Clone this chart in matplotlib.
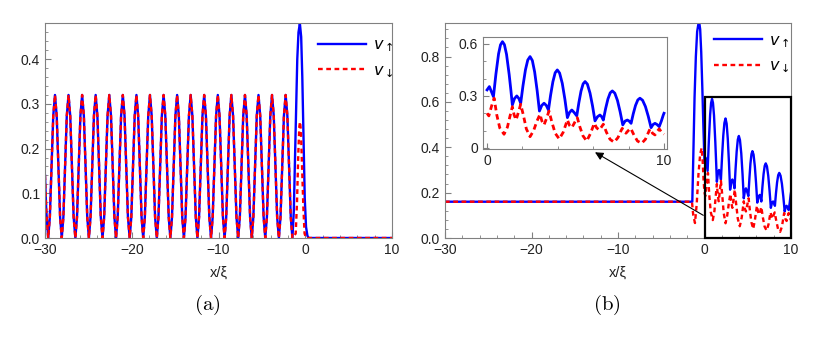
import numpy as np
import matplotlib.pyplot as plt
from matplotlib.ticker import AutoMinorLocator
from matplotlib.patches import Rectangle

plt.rcParams['font.family'] = ['Liberation Sans', 'DejaVu Sans']
plt.rcParams['mathtext.fontset'] = 'dejavusans'

BLUE = '#0000ff'
RED = '#ff0000'
FRAME = '#808080'

#------------------------------------------------------------------------
# (a) ripple region
#------------------------------------------------------------------------
# positions of the ripple maxima (x/xi); every ripple tops out near 0.32
peaks_a = [-28.85, -27.29, -25.72, -24.16, -22.59, -21.03, -19.46, -17.90, -16.33,
           -14.77, -13.21, -11.65, -10.08, -8.52, -6.95, -5.39, -3.83, -2.26]
# one ripple, offsets from its maximum and values
ripple_dx = [-0.78, -0.59, -0.39, -0.20, 0.0, 0.20, 0.39, 0.59]
ripple_v = [0.0, 0.047, 0.16, 0.273, 0.32, 0.273, 0.16, 0.047]

# left edge before the first ripple minimum
edge_x_a = [-30.0, -29.85]
edge_v_a = [0.14, 0.06]

# interface peak and the empty region on the right
tail_x_up_a = [-1.48, -1.32, -1.18, -1.04, -0.92, -0.78, -0.62, -0.47, -0.34, -0.20,
               -0.06, 0.09, 0.25, 0.40, 10.0]
tail_v_up_a = [0.0, 0.06, 0.18, 0.31, 0.40, 0.46, 0.48, 0.45, 0.36, 0.22,
               0.09, 0.025, 0.005, 0.0, 0.0]
tail_x_dn_a = [-1.48, -1.10, -0.95, -0.80, -0.68, -0.60, -0.50, -0.38, -0.22, -0.08,
               0.10, 10.0]
tail_v_dn_a = [0.0, 0.01, 0.08, 0.19, 0.25, 0.26, 0.24, 0.17, 0.07, 0.01,
               0.0, 0.0]

#------------------------------------------------------------------------
# (b) flat plateau, interface peak, and the decaying wiggles (inset)
#------------------------------------------------------------------------
lead_x_up_b = [-30.0, -1.41, -1.30, -1.15, -1.00, -0.85, -0.70, -0.60, -0.50, -0.38,
               -0.25, -0.12]
lead_v_up_b = [0.16, 0.16, 0.35, 0.62, 0.80, 0.91, 0.945, 0.948, 0.92, 0.82,
               0.66, 0.48]
lead_x_dn_b = [-30.0, -1.45, -1.30, -1.10, -0.90, -0.70, -0.50, -0.33, -0.20, -0.10]
lead_v_dn_b = [0.16, 0.16, 0.10, 0.066, 0.15, 0.28, 0.37, 0.397, 0.33, 0.25]

# 0 < x < 10 (shown in the inset and in the boxed region)
x_up = [0.00, 0.13, 0.36, 0.50, 0.65, 0.76, 0.87, 0.98, 1.10, 1.25, 1.35,
        1.43, 1.55, 1.68, 1.80, 1.90, 2.03, 2.17, 2.30, 2.43, 2.56, 2.69, 2.83,
        2.96, 3.09, 3.22, 3.35, 3.47, 3.59, 3.72, 3.85, 3.97, 4.10, 4.25, 4.40,
        4.54, 4.66, 4.79, 4.92, 5.07, 5.19, 5.31, 5.43, 5.54, 5.67, 5.82, 5.96,
        6.10, 6.24, 6.38, 6.48, 6.57, 6.70, 6.83, 6.96, 7.08, 7.22, 7.37, 7.52,
        7.67, 7.80, 7.93, 8.03, 8.14, 8.26, 8.39, 8.52, 8.64, 8.79, 8.95, 9.11,
        9.27, 9.38, 9.49, 9.61, 9.73, 9.85, 9.96, 10.0]
v_up = [0.335, 0.354, 0.296, 0.426, 0.543, 0.595, 0.613, 0.596, 0.540, 0.423, 0.329,
        0.248, 0.285, 0.300, 0.285, 0.258, 0.359, 0.451, 0.507, 0.527, 0.504, 0.438, 0.331,
        0.213, 0.245, 0.258, 0.245, 0.219, 0.304, 0.382, 0.434, 0.450, 0.432, 0.373, 0.280,
        0.175, 0.205, 0.219, 0.205, 0.185, 0.262, 0.328, 0.370, 0.383, 0.368, 0.316, 0.243,
        0.156, 0.180, 0.190, 0.180, 0.161, 0.227, 0.282, 0.318, 0.329, 0.316, 0.274, 0.209,
        0.133, 0.155, 0.161, 0.155, 0.142, 0.196, 0.245, 0.277, 0.287, 0.275, 0.239, 0.183,
        0.117, 0.135, 0.142, 0.135, 0.123, 0.155, 0.190, 0.200]
x_dn = [0.00, 0.10, 0.25, 0.40, 0.55, 0.72, 0.96, 1.15, 1.30, 1.43,
        1.53, 1.64, 1.77, 1.90, 2.05, 2.22, 2.43, 2.63, 2.82, 2.99,
        3.10, 3.22, 3.36, 3.50, 3.66, 3.85, 4.08, 4.30, 4.45, 4.54,
        4.66, 4.79, 4.94, 5.10, 5.25, 5.42, 5.63, 5.83, 5.96, 6.06,
        6.20, 6.35, 6.46, 6.57, 6.75, 6.95, 7.18, 7.40, 7.55, 7.64,
        7.75, 7.85, 7.98, 8.12, 8.30, 8.50, 8.74, 8.95, 9.10, 9.21,
        9.35, 9.49, 9.61, 9.73, 9.87, 10.0]
v_dn = [0.200, 0.185, 0.240, 0.287, 0.190, 0.115, 0.079, 0.120, 0.185, 0.238,
        0.190, 0.162, 0.205, 0.252, 0.190, 0.110, 0.065, 0.100, 0.155, 0.194,
        0.155, 0.133, 0.170, 0.213, 0.150, 0.085, 0.052, 0.090, 0.135, 0.162,
        0.130, 0.117, 0.145, 0.175, 0.120, 0.070, 0.040, 0.080, 0.115, 0.142,
        0.115, 0.104, 0.120, 0.137, 0.090, 0.050, 0.033, 0.060, 0.095, 0.113,
        0.095, 0.085, 0.100, 0.113, 0.075, 0.040, 0.027, 0.050, 0.085, 0.110,
        0.085, 0.075, 0.095, 0.110, 0.090, 0.079]


def ripples(peaks, dx, v):
    xs, ys = [], []
    for p in peaks:
        xs += [p + d for d in dx]
        ys += v
    return xs, ys


def frame(ax, size=10):
    for s in ax.spines.values():
        s.set_color(FRAME)
        s.set_linewidth(0.8)
    ax.tick_params(which='both', direction='in', colors=FRAME, labelcolor='#222222',
                   labelsize=size, top=False, right=False)
    ax.tick_params(which='major', length=4)
    ax.tick_params(which='minor', length=2)


rx, rv = ripples(peaks_a, ripple_dx, ripple_v)
xa_up = edge_x_a + rx + tail_x_up_a
va_up = edge_v_a + rv + tail_v_up_a
xa_dn = edge_x_a + rx + tail_x_dn_a
va_dn = edge_v_a + rv + tail_v_dn_a

xb_up = lead_x_up_b + x_up
vb_up = lead_v_up_b + v_up
xb_dn = lead_x_dn_b + x_dn
vb_dn = lead_v_dn_b + v_dn

W, H = 822, 342
fig = plt.figure(figsize=(W / 100, H / 100), dpi=100)

lw = 1.7
dash = (2.0, 1.5)
lab_up = r'$v_{\uparrow}$'
lab_dn = r'$v_{\downarrow}$'

# ---- (a)
ax1 = fig.add_axes([45 / W, 1 - 238 / H, 347 / W, 215 / H])
ax1.plot(xa_up, va_up, color=BLUE, lw=lw, label=lab_up)
ax1.plot(xa_dn, va_dn, color=RED, lw=lw, dashes=dash, label=lab_dn)
ax1.set_xlim(-30, 10)
ax1.set_ylim(0, 0.481)
ax1.set_xticks([-30, -20, -10, 0, 10])
ax1.set_yticks([0.0, 0.1, 0.2, 0.3, 0.4])
ax1.xaxis.set_minor_locator(AutoMinorLocator(5))
ax1.yaxis.set_minor_locator(AutoMinorLocator(5))
frame(ax1)
ax1.set_xlabel('x/ξ', fontsize=10.5, color='#222222', labelpad=6)
ax1.legend(loc='upper left', bbox_to_anchor=(0.745, 1.0), frameon=False,
           handlelength=3.0, fontsize=11.5, labelspacing=0.55, handletextpad=0.45)

# ---- (b)
ax2 = fig.add_axes([445 / W, 1 - 238 / H, 346 / W, 215 / H])
ax2.plot(xb_up, vb_up, color=BLUE, lw=lw, label=lab_up)
ax2.plot(xb_dn, vb_dn, color=RED, lw=lw, dashes=dash, label=lab_dn)
ax2.set_xlim(-30, 10)
ax2.set_ylim(0, 0.948)
ax2.set_xticks([-30, -20, -10, 0, 10])
ax2.set_yticks([0.0, 0.2, 0.4, 0.6, 0.8])
ax2.xaxis.set_minor_locator(AutoMinorLocator(5))
ax2.yaxis.set_minor_locator(AutoMinorLocator(5))
frame(ax2)
ax2.set_xlabel('x/ξ', fontsize=10.5, color='#222222', labelpad=6)
ax2.legend(loc='upper left', bbox_to_anchor=(0.735, 1.02), frameon=False,
           handlelength=3.0, fontsize=11.5, labelspacing=0.55, handletextpad=0.45)

# box around the zoomed region and the arrow to the inset
ax2.add_patch(Rectangle((0, 0), 10, 0.622, fill=False, edgecolor='black',
                        lw=1.6, clip_on=False, zorder=5))
ax2.annotate('', xy=(-12.66, 0.378), xytext=(-0.14, 0.10),
             arrowprops=dict(arrowstyle='-|>', color='black', lw=0.8,
                             mutation_scale=12, shrinkA=0, shrinkB=0))

# inset
ins = fig.add_axes([483 / W, 1 - 149 / H, 184 / W, 112 / H])
ins.plot(x_up, v_up, color=BLUE, lw=2.0)
ins.plot(x_dn, v_dn, color=RED, lw=2.0, dashes=(2.0, 1.4))
ins.set_xlim(-0.23, 10.17)
ins.set_ylim(-0.006, 0.64)
ins.set_xticks([0, 10])
ins.set_yticks([0, 0.3, 0.6])
ins.set_yticklabels(['0', '0.3', '0.6'])
ins.xaxis.set_minor_locator(AutoMinorLocator(5))
ins.yaxis.set_minor_locator(AutoMinorLocator(3))
frame(ins, size=10)

fig.text(207 / W, 1 - 305 / H, r'$\mathrm{(a)}$', math_fontfamily='cm',
         fontsize=15, ha='center', va='center')
fig.text(607 / W, 1 - 305 / H, r'$\mathrm{(b)}$', math_fontfamily='cm',
         fontsize=15, ha='center', va='center')

fig.savefig('out.png', dpi=100)
